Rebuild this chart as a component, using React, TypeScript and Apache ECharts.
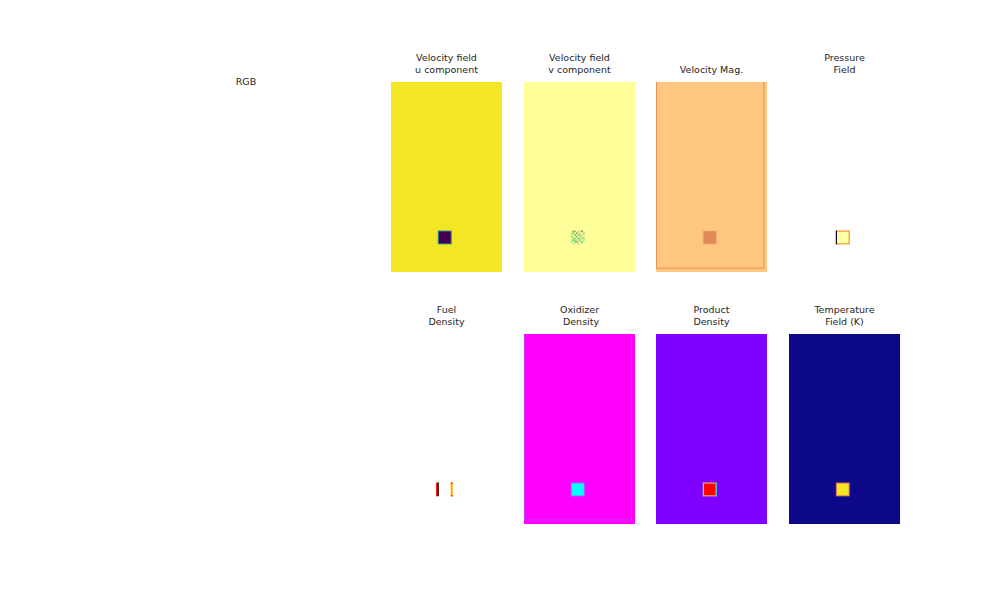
import React, { useEffect, useRef } from "react";
import * as echarts from "echarts";

// ---- data ----
const PANEL_TITLES = [
  "Velocity field\nu component",
  "Velocity field\nv component",
  "Velocity Mag.",
  "Pressure\nField",
  "Fuel\nDensity",
  "Oxidizer\n Density",
  "Product\nDensity",
  "Temperature\nField (K)",
];
const PANEL_CMAPS = ["viridis", "terrain", "copper", "inferno_w", "hot", "cool", "rainbow", "plasma"];
const SIDE_LABEL = "RGB";

// domain of each field (cells)
const X_MAX = 64;
const Y_MAX = 110;

// regions: [x0, y0, x1, y1, normalised value]
const U_REGIONS = [
  [0, 0, 64, 110, 0.985],
  [27, 16, 35, 24, 0.45],
  [27.6, 16.6, 34.4, 23.4, 0.0],
];
const V_BACKGROUND = [[0, 0, 64, 110, 0.5]];
const V_NOISE = [
  [0.46, 0.68, 0.62, 0.5, 0.38, 0.55, 0.7, 0.49],
  [0.55, 0.34, 0.48, 0.66, 0.52, 0.44, 0.51, 0.6],
  [0.41, 0.5, 0.3, 0.47, 0.63, 0.36, 0.54, 0.45],
  [0.6, 0.45, 0.53, 0.33, 0.49, 0.57, 0.42, 0.52],
  [0.48, 0.36, 0.58, 0.51, 0.28, 0.46, 0.61, 0.39],
  [0.53, 0.32, 0.4, 0.44, 0.55, 0.35, 0.5, 0.56],
  [0.37, 0.49, 0.3, 0.64, 0.43, 0.52, 0.31, 0.47],
  [0.5, 0.43, 0.47, 0.52, 0.58, 0.46, 0.53, 0.5],
];
const V_NOISE_ORIGIN = [27, 16];
const MAG_REGIONS = [
  [0, 0, 64, 110, 1.0],
  [0, 1.9, 62.5, 2.5, 0.73],
  [0, 2.5, 0.6, 110, 0.73],
  [61.9, 2.5, 62.5, 110, 0.73],
  [27, 16, 35, 24, 0.8],
  [27.5, 16.5, 34.5, 23.5, 0.69],
];
const P_REGIONS = [
  [0, 0, 64, 110, 1.0],
  [27, 16, 35, 24, 0.66],
  [27, 16, 27.7, 24, 0.08],
  [27.7, 16.6, 34.4, 23.4, 0.9],
];
const FUEL_REGIONS = [
  [0, 0, 64, 110, 1.0],
  [26, 16, 26.6, 24, 0.37],
  [26.6, 16, 27.6, 24, 0.06],
  [34.4, 16, 35.6, 24, 0.62],
  [34.4, 16, 35.6, 16.6, 0.4],
  [34.4, 23.4, 35.6, 24, 0.4],
];
const OX_REGIONS = [
  [0, 0, 64, 110, 1.0],
  [0, 2, 0.6, 110, 0.8],
  [61.7, 2, 62.3, 110, 0.8],
  [0, 2, 62.3, 2.6, 0.8],
  [27, 16, 35, 24, 0.55],
  [27.5, 16.5, 34.5, 23.5, 0.0],
];
const PROD_REGIONS = [
  [0, 0, 64, 110, 0.0],
  [27, 16, 35, 24, 0.7],
  [27, 16, 27.7, 24, 0.35],
  [34.3, 16, 35, 24, 0.3],
  [27.7, 16.6, 34.3, 23.4, 1.0],
];
const T_REGIONS = [
  [0, 0, 64, 110, 0.0],
  [27, 16, 35, 24, 0.62],
  [27.6, 16.6, 34.4, 23.4, 0.96],
];

// ---- styles ----
const CMAPS: Record<string, [number, string][]> = {
  viridis: [
    [0, "#440154"], [0.1, "#482475"], [0.2, "#414487"], [0.3, "#355f8d"], [0.4, "#2a788e"],
    [0.5, "#21918c"], [0.6, "#22a884"], [0.7, "#44bf70"], [0.8, "#7ad151"], [0.9, "#bddf26"], [1, "#fde725"],
  ],
  terrain: [[0, "#333399"], [0.15, "#0099ff"], [0.25, "#00cc66"], [0.5, "#ffff99"], [0.75, "#805c54"], [1, "#ffffff"]],
  copper: [[0, "#000000"], [0.8, "#ffa066"], [1, "#ffc77f"]],
  inferno_w: [
    [0, "#000004"], [0.09, "#160b39"], [0.18, "#420a68"], [0.27, "#6a176e"], [0.36, "#932667"],
    [0.45, "#bc3754"], [0.54, "#dd513a"], [0.63, "#f37819"], [0.72, "#fca50a"], [0.81, "#f6d746"],
    [0.9, "#fcffa4"], [1, "#ffffff"],
  ],
  hot: [[0, "#0b0000"], [0.365, "#ff0000"], [0.746, "#ffff00"], [1, "#ffffff"]],
  cool: [[0, "#00ffff"], [1, "#ff00ff"]],
  rainbow: [
    [0, "#8000ff"], [0.125, "#4062fa"], [0.25, "#00b4eb"], [0.375, "#40ecd4"], [0.5, "#80ffb4"],
    [0.625, "#c0ec8e"], [0.75, "#ffb462"], [0.875, "#ff6232"], [1, "#ff0000"],
  ],
  plasma: [
    [0, "#0d0887"], [0.1, "#41049d"], [0.2, "#6a00a8"], [0.3, "#8f0da4"], [0.4, "#b12a90"],
    [0.5, "#cc4778"], [0.6, "#e16462"], [0.7, "#f2844b"], [0.8, "#fca636"], [0.9, "#fcce25"], [1, "#f0f921"],
  ],
};

function hexToRgb(h: string) {
  return [parseInt(h.slice(1, 3), 16), parseInt(h.slice(3, 5), 16), parseInt(h.slice(5, 7), 16)];
}
function colorAt(name: string, v: number) {
  const stops = CMAPS[name];
  const t = Math.max(0, Math.min(1, v));
  for (let i = 0; i < stops.length - 1; i++) {
    const [p0, c0] = stops[i];
    const [p1, c1] = stops[i + 1];
    if (t <= p1) {
      const f = p1 === p0 ? 0 : (t - p0) / (p1 - p0);
      const a = hexToRgb(c0);
      const b = hexToRgb(c1);
      const r = a.map((x, k) => Math.round(x + (b[k] - x) * f));
      return `rgb(${r[0]},${r[1]},${r[2]})`;
    }
  }
  return stops[stops.length - 1][1];
}

const PANEL_LEFTS = [391, 524, 656, 789];
const PANEL_TOPS = [82, 334];
const PANEL_W = 111;
const PANEL_H = 190;
const FONT = "DejaVu Sans";

export default function App() {
  const ref = useRef<HTMLDivElement>(null);
  useEffect(() => {
    if (!ref.current) return;
    const chart = echarts.init(ref.current, undefined, { renderer: "svg" });

    const vRegions = V_BACKGROUND.concat(
      V_NOISE.flatMap((row, j) =>
        row.map((val, i) => [
          V_NOISE_ORIGIN[0] + i,
          V_NOISE_ORIGIN[1] + (V_NOISE.length - 1 - j),
          V_NOISE_ORIGIN[0] + i + 1,
          V_NOISE_ORIGIN[1] + (V_NOISE.length - j),
          val,
        ])
      )
    );
    const panelData = [U_REGIONS, vRegions, MAG_REGIONS, P_REGIONS, FUEL_REGIONS, OX_REGIONS, PROD_REGIONS, T_REGIONS];

    const grids: any[] = [];
    const xAxes: any[] = [];
    const yAxes: any[] = [];
    const series: any[] = [];
    const graphics: any[] = [];

    panelData.forEach((data, idx) => {
      const col = idx % 4;
      const row = Math.floor(idx / 4);
      const left = PANEL_LEFTS[col];
      const top = PANEL_TOPS[row];
      grids.push({ left, top, width: PANEL_W, height: PANEL_H, containLabel: false });
      xAxes.push({ gridIndex: idx, type: "value", min: 0, max: X_MAX, show: false });
      yAxes.push({ gridIndex: idx, type: "value", min: 0, max: Y_MAX, show: false });
      const cmap = PANEL_CMAPS[idx];
      series.push({
        type: "custom",
        xAxisIndex: idx,
        yAxisIndex: idx,
        silent: true,
        encode: { x: [0, 2], y: [1, 3] },
        data,
        renderItem: (params: any, api: any) => {
          const p0 = api.coord([api.value(0), api.value(3)]);
          const p1 = api.coord([api.value(2), api.value(1)]);
          return {
            type: "rect",
            shape: { x: p0[0], y: p0[1], width: p1[0] - p0[0], height: p1[1] - p0[1] },
            style: { fill: colorAt(cmap, api.value(4)) },
          };
        },
      });
      graphics.push({
        type: "text",
        x: left + PANEL_W / 2,
        y: top - 6,
        style: {
          text: PANEL_TITLES[idx],
          fill: "#262626",
          font: `9.5px "${FONT}"`,
          lineHeight: 12.5,
          textAlign: "center",
          textVerticalAlign: "bottom",
        },
      });
    });

    graphics.push({
      type: "text",
      x: 246,
      y: 81,
      style: {
        text: SIDE_LABEL,
        fill: "#262626",
        font: `9.5px "${FONT}"`,
        textAlign: "center",
        textVerticalAlign: "middle",
      },
    });

    chart.setOption({
      animation: false,
      backgroundColor: "#ffffff",
      grid: grids,
      xAxis: xAxes,
      yAxis: yAxes,
      series,
      graphic: { elements: graphics },
    });
    return () => chart.dispose();
  }, []);
  return <div ref={ref} style={{ position: "absolute", left: 0, top: 0, width: 1000, height: 600 }} />;
}
